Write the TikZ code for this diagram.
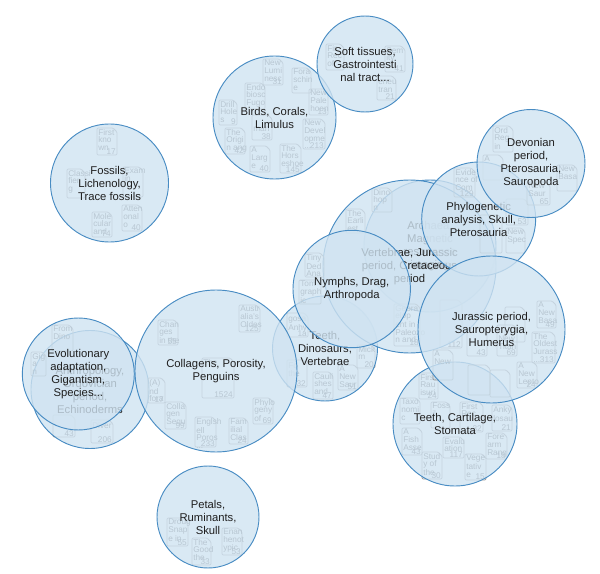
\documentclass[tikz,border=0pt]{standalone}
\usepackage{fontspec}
\setmainfont{Liberation Sans}
\definecolor{bubblefill}{RGB}{208,227,241}
\definecolor{bubbleline}{RGB}{72,140,195}
\definecolor{tileline}{RGB}{150,150,150}
\newcounter{tc}
\tikzset{
  bubblenode/.style={circle,draw=bubbleline,fill=bubblefill,fill opacity=.8,draw opacity=1,line width=.7pt,inner sep=0pt},
  lbl/.style={align=center,inner sep=0pt,text=black!88,font=\fontsize{8.45}{9.75}\selectfont},
  tiletext/.style={inner sep=0pt,align=left,text=black!65,font=\fontsize{6.2}{5.7}\selectfont},
  tileedge/.style={draw=tileline,line width=.55pt,rounded corners=.8pt},
}
\newcommand{\tile}[6]{%
  \stepcounter{tc}%
  \draw[tileedge] (#1,#2) -- ({#1+#3-4},#2) -- ({#1+#3},{#2+4}) -- ({#1+#3},{#2+#4}) -- (#1,{#2+#4}) -- cycle;
  \node[tiletext,anchor=north west] (t\thetc) at ({#1+1},{#2+1}) {#5};
  \node[tiletext,anchor=south east] (n\thetc) at ({#1+#3-1},{#2+#4-.5}) {#6};
}
\newcommand{\bub}[5]{%
  \node[bubblenode,minimum size=#4*1.5pt] (#1) at (#2,#3) {};
  \node[lbl] (#1-l) at (#2,#3) {#5};
}
\begin{document}
\begin{tikzpicture}[x=.75pt,y=-.75pt]
\useasboundingbox (0,0) rectangle (600,574);
% Fossils
\tile{97}{128}{20}{27}{First\\kno\\wn}{17}
\tile{67}{169}{18}{29}{Classi\\fier\\g}{}
\tile{123}{167}{20}{30}{Exam\\in\\}{}
\tile{122}{205}{20}{26}{Atten\\onal\\o}{40}
\tile{92}{212}{20}{25}{Mole\\cular\\and}{74}
\bub{fossils}{109.5}{183}{59}{Fossils,\\Lichenology,\\Trace fossils}
% Birds
\tile{263}{59}{20}{26}{New\\Lumi\\nesc}{31}
\tile{292}{68}{19}{25}{Fora\\schin\\e}{}
\tile{245}{83}{20}{26}{Endo\\biosc\\Fugo}{}
\tile{219}{100}{18}{25}{Drill\\Hole\\s}{9}
\tile{309}{89}{19}{26}{New\\Pale\\hoen}{13}
\tile{303}{119}{22}{30}{New\\Devel\\opme\\...}{213}
\tile{225}{128}{20}{26}{The\\Origi\\n ang}{42}
\tile{252}{115}{20}{25}{\\\\man}{38}
\tile{250}{146}{20}{26}{A\\Larg\\e}{40}
\tile{280}{144}{21}{29}{The\\Hors\\eshoe}{145}
\bub{birds}{274.5}{117.5}{61.5}{Birds, Corals,\\Limulus}
% Soft
\tile{326}{44}{18}{26}{Fir\\Rec\\of}{}
\tile{385}{46}{20}{26}{Sem\\ity}{41}
\tile{377}{76}{19}{24}{\\eneu\\tran}{21}
\bub{soft}{365}{64}{48}{Soft tissues,\\Gastrointesti\\nal tract...}
% Anthropology
\tile{91}{420}{22}{23}{\\Diver}{206}
\tile{53}{415}{22}{22}{}{43}
\bub{anth}{90}{389.5}{59}{Anthropology,\\Ordovician\\period,\\Echinoderms}
% Evolutionary
\tile{52}{325}{21}{26}{From\\Dino}{}
\tile{31}{352}{15}{24}{Gig\\a\\n}{}
\bub{evol}{78.3}{374}{56}{Evolutionary\\adaptation,\\Gigantism,\\Species...}
% Teeth Dinosaurs
\tile{287}{313}{21}{24}{\\gosa\\Anhy}{1a}
\tile{287}{360}{20}{27}{\\Fo\\the}{32}
\tile{313}{372}{20}{27}{Cauli\\shes\\and}{47}
\tile{338}{365}{20}{25}{A\\New\\Saur}{51}
\tile{357}{345}{18}{23}{Mick\\m}{20}
\bub{teethd}{325}{348.5}{52.5}{Teeth,\\Dinosaurs,\\Vertebrae}
% Collagens
\tile{158}{320}{20}{25}{Chan\\ges\\in the}{55}
\tile{239}{305}{21}{27}{Austr\\alia's\\Oldes}{125}
\tile{202}{358}{32}{40}{The\\\\\\}{1524}
\tile{148}{378}{17}{25}{(A)\\nd\\fora}{17}
\tile{165}{402}{21}{27}{Colla\\gen\\Sequ}{99}
\tile{195}{417}{21}{30}{Englsh\\ell\\Poros\\...}{233}
\tile{229}{418}{19}{26}{Fam\\ilial\\Clas}{24}
\tile{253}{398}{20}{26}{Phylo\\geny\\of}{69}
\bub{collagens}{216}{371}{81}{Collagens, Porosity,\\Penguins}
% Archaea inner
\bub{arch}{430}{246}{66}{Archaea,\\Magnetic\\resonance\\imaging}
% Vertebrae
\tile{372}{188}{20}{24}{Dino\\hop\\n}{}
\tile{346}{209}{19}{24}{The\\Earli\\est}{}
\tile{394}{304}{26}{42}{Geora\\elop\\ent in\\Paleozo\\n and}{18}
\tile{440}{300}{22}{48}{}{112}
\bub{vert}{409.5}{266.5}{86.5}{Vertebrae, Jurassic\\period, Cretaceous\\period}
% Nymphs
\tile{305}{253}{19}{24}{Tiny\\Ded\\Ana}{}
\tile{299}{280}{22}{24}{Tom\\graph\\ic}{}
\bub{nymphs}{351.7}{289}{58.7}{Nymphs, Drag,\\Arthropoda}
% Phylogenetic
\tile{454}{168}{21}{29}{Evide\\nce of\\Com}{129}
\tile{483}{155}{20}{25}{A}{}
\tile{480}{215}{22}{38}{}{}
\tile{506}{199}{22}{26}{}{53}
\tile{506}{228}{19}{25}{New\\Spec}{}
\bub{phylo}{478.7}{219}{57}{Phylogenetic\\analysis, Skull,\\Pterosauria}
% Devonian
\tile{493}{126}{20}{26}{Ord\\Reg\\in}{}
\tile{557}{165}{20}{26}{New\\Basa}{}
\tile{527}{182}{23}{23}{New\\Saur}{65}
\bub{devon}{531}{163.5}{54}{Devonian\\period,\\Pterosauria,\\Sauropoda}
% Teeth Cartilage
\tile{419}{373}{19}{26}{First\\Rau\\isuri}{24}
\tile{400}{398}{20}{26}{Taxo\\nomi\\c}{}
\tile{431}{402}{19}{26}{Foss\\il}{}
\tile{460}{402}{23}{30}{First\\Rec}{32}
\tile{492}{405}{20}{26}{Anky\\losau}{21}
\tile{402}{428}{20}{27}{A\\Fish\\Asse}{43}
\tile{422}{452}{20}{27}{Stud\\y of\\the}{30}
\tile{443}{437}{21}{21}{Evalu\\ation}{117}
\tile{486}{433}{21}{26}{Fore\\arm\\Rang}{18}
\tile{465}{454}{21}{26}{Vege\\tativ\\e}{15}
\bub{teethc}{455}{424}{62}{Teeth, Cartilage,\\Stomata}
% Jurassic
\tile{537}{301}{19}{27}{A\\New\\Basa}{49}
\tile{532}{332}{23}{31}{The\\Oldest\\Jurass\\...}{313}
\tile{497}{325}{20}{31}{\\\\New\\Titan}{69}
\tile{505}{307}{20}{35}{}{}
\tile{517}{362}{20}{26}{A\\New\\Lepto}{24}
\tile{467}{328}{20}{28}{}{43}
\tile{433}{350}{20}{30}{A\\New}{}
\tile{490}{370}{20}{27}{}{}
\tile{468}{365}{22}{30}{}{}
\bub{jura}{491.5}{329.5}{73.5}{Jurassic period,\\Sauropterygia,\\Humerus}
% Petals
\tile{167}{518}{21}{28}{Droug\\Snap\\e in}{55}
\tile{192}{538}{19}{27}{The\\Good\\the}{33}
\tile{222}{528}{20}{27}{Enan\\henot\\ypic}{53}
\bub{petals}{208}{517}{51}{Petals,\\Ruminants,\\Skull}
\end{tikzpicture}
\end{document}
